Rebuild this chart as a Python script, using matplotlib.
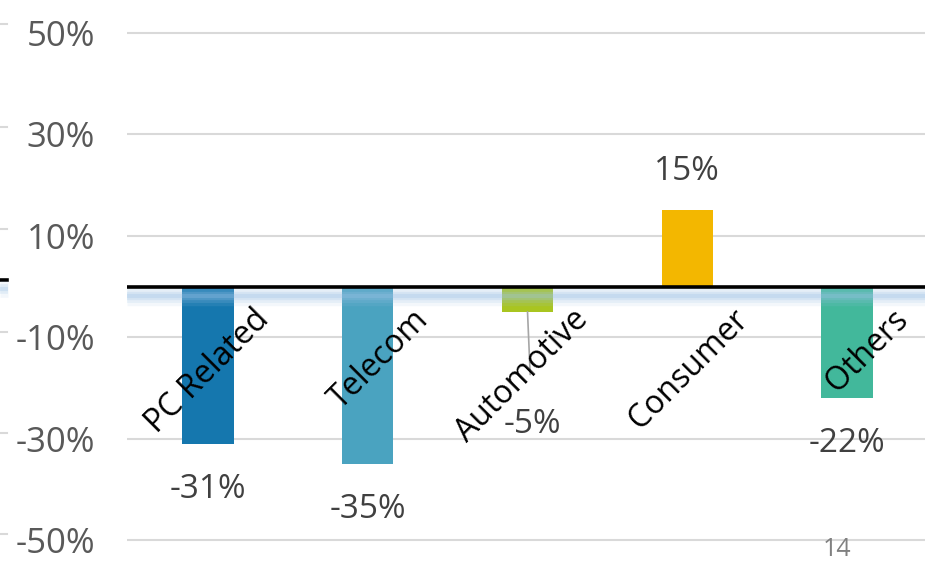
import matplotlib.pyplot as plt
from matplotlib.lines import Line2D

plt.rcParams['font.family'] = ['Open Sans', 'DejaVu Sans']

# data
categories = ['PC Related', 'Telecom', 'Automotive', 'Consumer', 'Others']
growth = [-31, -35, -5, 15, -22]
colors = ['#1577AE', '#4AA3C0', '#A9C520', '#F3B700', '#42B89B']
yticks = [-50, -30, -10, 10, 30, 50]
page_no = '14'

fig = plt.figure(figsize=(9.36, 5.63), dpi=100)
ax = fig.add_axes([127 / 936, 0.0229, (925 - 127) / 936, 0.9364])

x = range(len(categories))
ax.bar(x, growth, width=0.32, color=colors, zorder=2)

ax.set_xlim(-0.507, 4.488)
ax.set_ylim(-52, 52)
ax.set_yticks(yticks)
ax.set_yticklabels([f'{v}%' for v in yticks])
ax.set_xticks([])
ax.tick_params(axis='y', length=0, pad=23, labelsize=25, labelcolor='#595959')
for s in ax.spines.values():
    s.set_visible(False)
ax.grid(axis='y', color='#D9D9D9', linewidth=1.5, zorder=0)

# glow under the zero line
for lw, a in [(14, 0.12), (10, 0.16), (6, 0.22), (3, 0.28)]:
    ax.axhline(-1.8, color='#9DC3E6', linewidth=lw, alpha=a, zorder=3,
               solid_capstyle='butt')
ax.axhline(0, color='black', linewidth=2.6, zorder=4)

# category labels, rotated
for i, name in enumerate(categories):
    ax.text(i + 0.35, -5.6, name, rotation=45, rotation_mode='anchor',
            ha='right', va='center', fontsize=23, color='black', zorder=5)

# value labels
for i, v in enumerate(growth):
    if i == 2:
        ax.annotate(f'{v}%', xy=(i, v), xytext=(i + 0.03, -27.2),
                    ha='center', va='center', fontsize=24, color='#404040',
                    arrowprops=dict(arrowstyle='-', color='#A6A6A6', lw=1.2,
                                    shrinkA=22, shrinkB=0))
        continue
    off = 28 if v > 0 else -33
    ax.annotate(f'{v}%', xy=(i, v), xytext=(0, off), textcoords='offset points',
                ha='center', va='center', fontsize=24, color='#404040')

# bits of the slide behind, peeking at the left edge
H = 563.0
for yp, c, lw in [(24, '#D9D9D9', 1.5), (127, '#D9D9D9', 1.5), (229, '#D9D9D9', 1.5),
                  (280, 'black', 2.6), (332, '#D9D9D9', 1.5), (433, '#D9D9D9', 1.5),
                  (534, '#D9D9D9', 1.5)]:
    fig.add_artist(Line2D([0, 7 / 936], [1 - yp / H, 1 - yp / H], color=c, lw=lw))
for lw, a in [(12, 0.12), (7, 0.2), (3, 0.28)]:
    fig.add_artist(Line2D([0, 8 / 936], [1 - 289 / H, 1 - 289 / H],
                          color='#9DC3E6', lw=lw, alpha=a, solid_capstyle='butt'))

fig.text(837 / 936, 1 - 550 / H, page_no, ha='center', va='center',
         fontsize=18, color='#808080')

fig.savefig('out.png', dpi=100)
